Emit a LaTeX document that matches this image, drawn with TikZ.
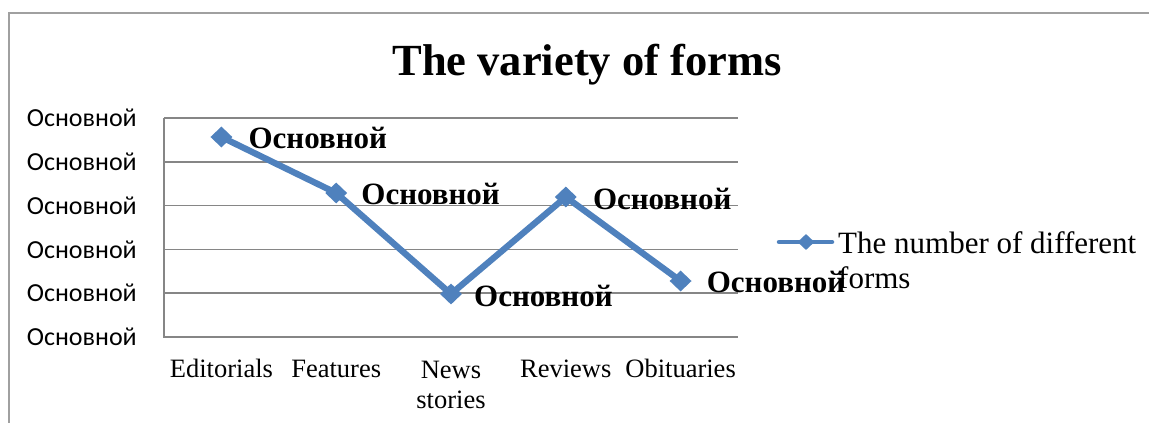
\documentclass[tikz,border=0pt]{standalone}
\usepackage{fontspec}
\setmainfont{Liberation Serif}
\newfontfamily\calfont{Carlito}
\usetikzlibrary{shapes.geometric}
\definecolor{serieblue}{HTML}{4F81BD}
\definecolor{gridgray}{HTML}{868686}
\definecolor{framegray}{HTML}{A0A0A0}
\tikzset{
  grid line/.style={draw=gridgray, line width=1.6pt},
  ylab/.style={anchor=east, font=\calfont\fontsize{26}{28}\selectfont, inner sep=0pt},
  catlab/.style={anchor=base, font=\fontsize{26.5}{30}\selectfont, inner sep=0pt, align=center},
  datalab/.style={anchor=west, font=\bfseries\fontsize{31}{34}\selectfont, inner sep=0pt},
  pt/.style={diamond, fill=serieblue, minimum width=22pt, minimum height=21pt, inner sep=0pt},
  serie/.style={draw=serieblue, line width=6.3pt, line join=round},
  legtxt/.style={anchor=base west, font=\fontsize{31}{35}\selectfont, inner sep=0pt},
}
\begin{document}
\begin{tikzpicture}[x=1pt,y=-1pt]
\useasboundingbox (0,0) rectangle (1149,423);
% frame
\draw[framegray, line width=2pt] (9,423) -- (9,13) -- (1149,13);
% title
\node[anchor=base, font=\bfseries\fontsize{44.5}{50}\selectfont, inner sep=0pt] (title) at (587,75) {The variety of forms};
% grid
\foreach \yy in {118,161.8,205.6,249.4,293.2} \draw[grid line] (164,\yy) -- (738,\yy);
\draw[grid line] (164,118) -- (164,337) -- (738,337);
% y labels
\foreach \yy/\nm in {118/y0,161.8/y1,205.6/y2,249.4/y3,293.2/y4,337/y5}
  \node[ylab] (\nm) at (137,\yy) {Основной};
% categories
\node[catlab] (c1) at (221.4,377) {Editorials};
\node[catlab] (c2) at (336.2,377) {Features};
\node[catlab] (c3) at (451,378) {News};
\node[catlab] (c3b) at (451,408) {stories};
\node[catlab] (c4) at (565.8,377) {Reviews};
\node[catlab] (c5) at (680.6,377) {Obituaries};
% points
\coordinate (q1) at (221.4,137);
\coordinate (q2) at (336.2,193);
\coordinate (q3) at (451,294);
\coordinate (q4) at (565.8,197);
\coordinate (q5) at (680.6,281);
\draw[serie] (q1) -- (q2) -- (q3) -- (q4) -- (q5);
\foreach \i in {1,...,5} \node[pt] (p\i) at (q\i) {};
% data labels
\node[datalab] (d1) at ([xshift=27pt,yshift=-1pt]p1.center) {Основной};
\node[datalab] (d2) at ([xshift=25pt,yshift=-1pt]p2.center) {Основной};
\node[datalab] (d3) at ([xshift=23pt,yshift=-2pt]p3.center) {Основной};
\node[datalab] (d4) at ([xshift=27pt,yshift=-2pt]p4.center) {Основной};
\node[datalab] (d5) at ([xshift=26pt,yshift=-1pt]p5.center) {Основной};
% legend
\coordinate (la) at (779,242);
\coordinate (lb) at (832,242);
\draw[serieblue, line width=4.5pt, line cap=round] (la) -- (lb);
\node[diamond, fill=serieblue, minimum width=17pt, minimum height=16pt, inner sep=0pt] (lm) at (806,242) {};
\node[legtxt] (leg1) at (838,253) {The number of different};
\node[legtxt] (leg2) at (838,288) {forms};
\end{tikzpicture}
\end{document}
